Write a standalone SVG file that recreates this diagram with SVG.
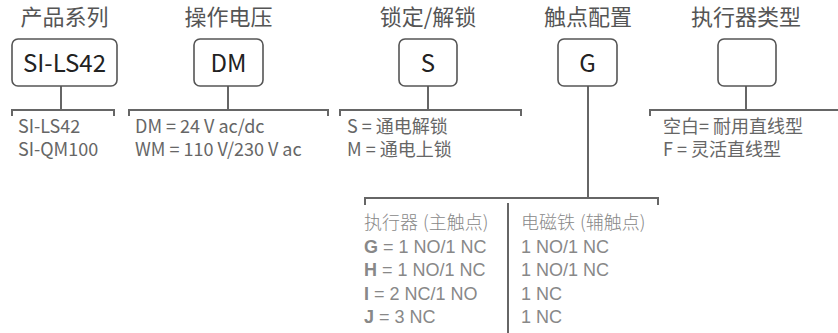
<svg xmlns="http://www.w3.org/2000/svg" width="838" height="333" viewBox="0 0 838 333">
<style>
.title{font-family:"Noto Sans CJK SC","Noto Sans",sans-serif;font-size:22px;fill:#555;text-anchor:middle}
.box{fill:#fff;stroke:#555;stroke-width:1.6}
.code{font-family:"Noto Sans CJK SC","Noto Sans",sans-serif;font-size:24px;fill:#222;text-anchor:middle}
.opt{font-family:"Noto Sans CJK SC","Noto Sans",sans-serif;font-size:18px;fill:#666}
.tbl{font-family:"Liberation Sans","Noto Sans CJK SC",sans-serif;font-size:18px;fill:#888}
.tblh{font-family:"Noto Sans CJK SC",sans-serif;font-size:18px;fill:#888;font-weight:300}
.ln{fill:none;stroke:#666;stroke-width:2}
</style>
<rect width="838" height="333" fill="#fff"/>
<g id="connectors">
<path class="ln" d="M61 86V110M12 116V110H114V116"/>
<path class="ln" d="M228 86V110M129 116V110H328V116"/>
<path class="ln" d="M428 86V110M340 116V110H521V116"/>
<path class="ln" d="M588 86V198M365 205V198H658V205"/>
<path class="ln" d="M746 86V110M650 116V110H838"/>
<path class="ln" d="M508 203V333"/>
</g>
<g id="n1">
<text class="title" x="64.5" y="25">产品系列</text>
<rect class="box" x="12" y="39" width="105" height="47" rx="6"/>
<text class="code" x="64.5" y="72">SI-LS42</text>
<text class="opt" x="18" y="133">SI-LS42</text>
<text class="opt" x="18" y="156">SI-QM100</text>
</g>
<g id="n2">
<text class="title" x="228.5" y="25">操作电压</text>
<rect class="box" x="194" y="39" width="69" height="47" rx="6"/>
<text class="code" x="228.5" y="72">DM</text>
<text class="opt" x="135" y="133">DM = 24 V ac/dc</text>
<text class="opt" x="135" y="156">WM = 110 V/230 V ac</text>
</g>
<g id="n3">
<text class="title" x="428" y="25">锁定/解锁</text>
<rect class="box" x="399" y="39" width="58" height="47" rx="6"/>
<text class="code" x="428" y="72">S</text>
<text class="opt" x="347" y="133">S = 通电解锁</text>
<text class="opt" x="347" y="156">M = 通电上锁</text>
</g>
<g id="n4">
<text class="title" x="588" y="25">触点配置</text>
<rect class="box" x="558" y="39" width="59" height="47" rx="6"/>
<text class="code" x="587.5" y="72">G</text>
<text class="tblh" x="364" y="229">执行器<tspan dx="5">(</tspan>主触点)</text>
<text class="tbl" x="364" y="253"><tspan font-weight="bold">G</tspan> = 1 NO/1 NC</text>
<text class="tbl" x="364" y="276"><tspan font-weight="bold">H</tspan> = 1 NO/1 NC</text>
<text class="tbl" x="364" y="300"><tspan font-weight="bold">I</tspan> = 2 NC/1 NO</text>
<text class="tbl" x="364" y="323"><tspan font-weight="bold">J</tspan> = 3 NC</text>
<text class="tblh" x="521" y="229">电磁铁<tspan dx="5">(</tspan>辅触点)</text>
<text class="tbl" x="521" y="253">1 NO/1 NC</text>
<text class="tbl" x="521" y="276">1 NO/1 NC</text>
<text class="tbl" x="521" y="300">1 NC</text>
<text class="tbl" x="521" y="323">1 NC</text>
</g>
<g id="n5">
<text class="title" x="746" y="25">执行器类型</text>
<rect class="box" x="718" y="39" width="58" height="47" rx="6"/>
<text class="opt" x="663" y="133">空白= 耐用直线型</text>
<text class="opt" x="663" y="156">F = 灵活直线型</text>
</g>
</svg>
